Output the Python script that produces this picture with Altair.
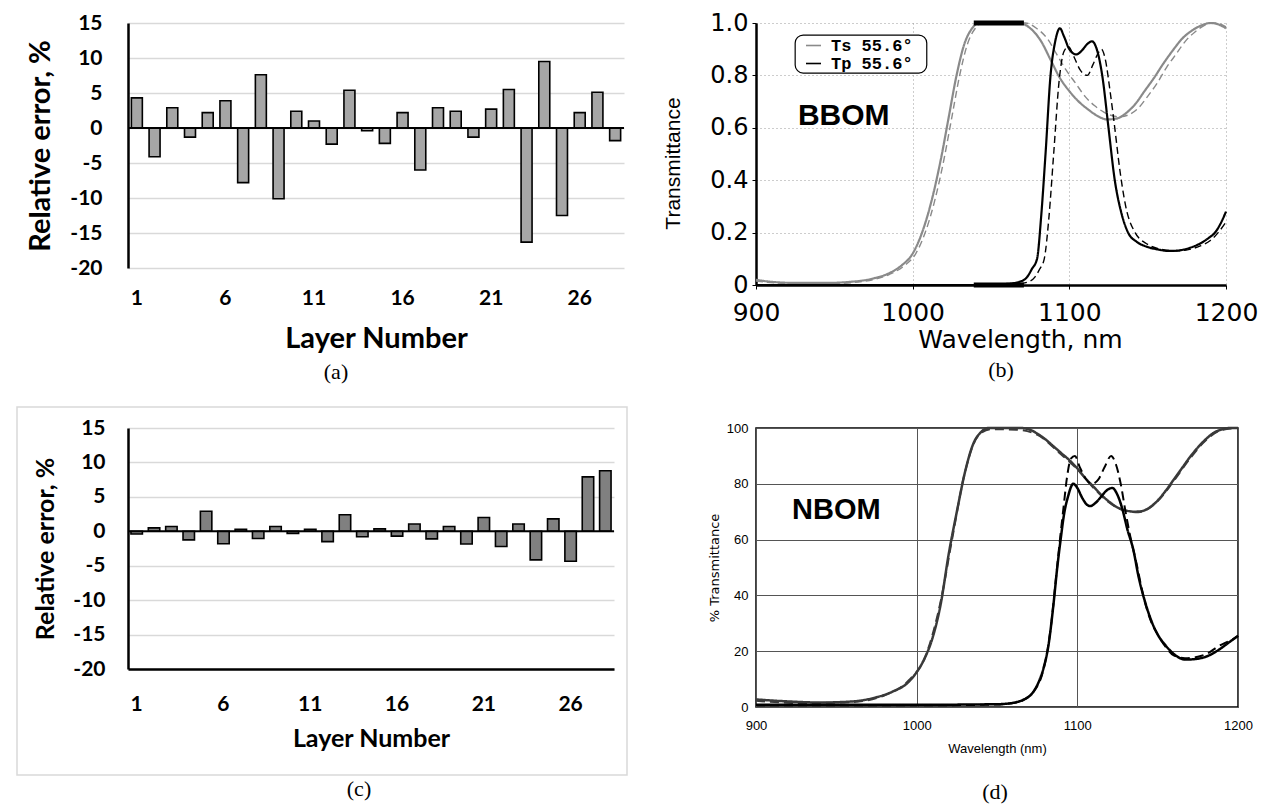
import altair as alt
import pandas as pd

# ---------------- relative error of every layer (panels a and c) ----------------
layer_no = list(range(1, 29))
err_bbom = [4.3, -4.1, 2.9, -1.3, 2.2, 3.9, -7.8, 7.6, -10.1, 2.4, 1.0, -2.3, 5.4, -0.4,
            -2.2, 2.2, -6.0, 2.9, 2.4, -1.3, 2.7, 5.5, -16.3, 9.5, -12.5, 2.2, 5.1, -1.8]
err_nbom = [-0.4, 0.5, 0.7, -1.25, 2.9, -1.8, 0.3, -1.05, 0.7, -0.3, 0.3, -1.5, 2.4, -0.8,
            0.35, -0.7, 1.05, -1.1, 0.7, -1.85, 2.0, -2.2, 1.05, -4.15, 1.8, -4.35, 7.9, 8.8]
err_ticks = [-20, -15, -10, -5, 0, 5, 10, 15]
layer_ticks = [1, 6, 11, 16, 21, 26]

# ---------------- BBOM transmittance (panel b) ----------------
bb_ts_wl = [900, 910, 925, 945, 960, 975, 985, 993, 1000, 1006, 1012, 1018, 1023, 1028, 1033, 1038,
            1042, 1068, 1075, 1082, 1088, 1094, 1100, 1106, 1112, 1118, 1124, 1130, 1136, 1142,
            1148, 1154, 1160, 1166, 1172, 1178, 1184, 1190, 1195, 1200]
bb_ts_t = [0.02, 0.012, 0.008, 0.008, 0.012, 0.025, 0.045, 0.075, 0.12, 0.2, 0.32, 0.48, 0.64, 0.8,
           0.92, 0.98, 1.0, 1.0, 0.98, 0.93, 0.86, 0.79, 0.74, 0.70, 0.67, 0.645, 0.632, 0.635,
           0.655, 0.69, 0.74, 0.79, 0.845, 0.895, 0.94, 0.97, 0.99, 1.0, 0.995, 0.98]
bb_ts_fit_wl = [900, 920, 950, 970, 985, 995, 1002, 1008, 1014, 1020, 1025, 1030, 1035, 1040, 1044,
                1072, 1079, 1086, 1092, 1098, 1104, 1110, 1116, 1122, 1128, 1132, 1138, 1144, 1150,
                1156, 1162, 1168, 1174, 1180, 1186, 1192, 1197, 1200]
bb_ts_fit_t = [0.015, 0.006, 0.006, 0.015, 0.04, 0.075, 0.12, 0.2, 0.32, 0.48, 0.64, 0.8, 0.92, 0.98,
               1.0, 1.0, 0.98, 0.94, 0.88, 0.82, 0.77, 0.72, 0.685, 0.66, 0.645, 0.642, 0.65, 0.675,
               0.72, 0.77, 0.83, 0.88, 0.93, 0.965, 0.99, 1.0, 0.995, 0.985]
bb_tp_wl = [900, 1040, 1060, 1068, 1073, 1076, 1079.4, 1082, 1084.8, 1088, 1091, 1094, 1096.5, 1100,
            1104.5, 1108, 1111.5, 1114.5, 1117.5, 1121, 1125, 1129, 1133, 1137.5, 1143, 1150, 1157,
            1163, 1170, 1177, 1184, 1189, 1193, 1197, 1200]
bb_tp_t = [0, 0, 0.004, 0.012, 0.03, 0.06, 0.1, 0.26, 0.5, 0.8, 0.93, 0.98, 0.95, 0.9, 0.88, 0.895,
           0.92, 0.93, 0.9, 0.8, 0.6, 0.4, 0.28, 0.2, 0.165, 0.145, 0.135, 0.13, 0.132, 0.142,
           0.16, 0.18, 0.2, 0.24, 0.28]
bb_tp_fit_wl = [900, 1045, 1065, 1073, 1078, 1081, 1084, 1087, 1090, 1093.5, 1096.5, 1099.5, 1103,
                1107, 1111.5, 1115, 1118, 1120.5, 1123, 1126, 1129, 1132, 1136, 1142, 1150, 1160,
                1168, 1176, 1184, 1190, 1195, 1200]
bb_tp_fit_t = [0, 0, 0.003, 0.01, 0.03, 0.06, 0.1, 0.26, 0.5, 0.78, 0.89, 0.91, 0.87, 0.82, 0.8,
               0.84, 0.88, 0.9, 0.86, 0.74, 0.6, 0.45, 0.3, 0.2, 0.155, 0.135, 0.13, 0.135, 0.15,
               0.17, 0.2, 0.24]
bb_band = [1039, 1071]          # pass band edges marked on the 0 and 1 lines
trans_ticks = [0.0, 0.1, 0.2, 0.3, 0.4, 0.5, 0.6, 0.7, 0.8, 0.9, 1.0]
wl_ticks = [900, 1000, 1100, 1200]

# ---------------- NBOM transmittance (panel d) ----------------
nb_ts_wl = [900, 920, 940, 960, 975, 985, 995, 1000, 1005, 1010, 1015, 1020, 1025, 1030, 1035, 1040,
            1045, 1065, 1070, 1075, 1080, 1085, 1090, 1095, 1100, 1105, 1110, 1115, 1120, 1125,
            1130, 1135, 1140, 1145, 1150, 1155, 1160, 1165, 1170, 1175, 1180, 1185, 1190, 1195, 1200]
nb_ts_t = [2.7, 2.0, 1.6, 2.0, 3.5, 5.5, 9.0, 12.5, 17.5, 25, 37, 55, 70, 84, 94, 98.5, 100, 100,
           99.5, 98, 96, 93.5, 91, 88.5, 85.5, 82, 79, 76, 73.5, 71.5, 70.5, 70, 70.2, 71.5, 74,
           77.5, 81.5, 85.5, 89.5, 93, 96, 98.3, 99.5, 100, 100]
nb_ts_fit_wl = [900, 930, 960, 980, 995, 1005, 1015, 1022, 1030, 1038, 1046, 1062, 1075, 1090, 1100,
                1110, 1120, 1130, 1138, 1150, 1160, 1170, 1180, 1190, 1200]
nb_ts_fit_t = [2.2, 1.4, 1.8, 4.2, 9.5, 17.5, 38, 60, 84, 97, 99.6, 99.4, 97.6, 90.5, 85.2, 78.6,
               73.2, 70.3, 69.8, 73.8, 81, 89, 95.6, 99.3, 100]
nb_tp_wl = [900, 1000, 1050, 1060, 1066, 1072, 1076, 1079, 1082, 1085, 1087.5, 1089.6, 1092, 1094,
            1097.5, 1100, 1103, 1106, 1108, 1111, 1115, 1118, 1121.8, 1125, 1128, 1131, 1135, 1138,
            1142, 1146, 1150, 1155, 1160, 1167.5, 1175, 1182, 1188, 1194, 1200]
nb_tp_t = [0.8, 0.8, 1.0, 1.5, 2.5, 5, 9, 14, 22, 36, 50, 60, 70, 75, 80, 78.5, 75, 72.5, 72, 73,
           75.5, 77.5, 78.5, 76, 71, 64, 56, 47, 38, 31, 26, 22, 19, 17, 17.3, 18.5, 20.5, 23, 25.5]
nb_tp_fit_wl = [900, 1000, 1050, 1062, 1068, 1074, 1078, 1081, 1084, 1086.5, 1089, 1091.5, 1093.5,
                1096, 1098.5, 1101.5, 1105, 1109, 1113, 1117, 1121, 1124, 1127, 1130, 1133, 1137,
                1141, 1145, 1150, 1155, 1160, 1167, 1175, 1182, 1187, 1192, 1196, 1200]
nb_tp_fit_t = [0.6, 0.6, 0.9, 1.6, 3, 6.5, 11.5, 19, 31, 45, 59, 72, 82, 89, 90, 86, 82, 80, 81.5,
               86, 90, 87, 80, 70, 61, 51, 40, 32, 26, 21.5, 18.5, 17.5, 18, 19.5, 21.5, 23, 24, 25.5]
pct_ticks = [0, 20, 40, 60, 80, 100]

CAL = "Lato, Carlito, Calibri, sans-serif"
VERD = "DejaVu Sans, Verdana, sans-serif"
ARIAL = "Liberation Sans, Arial, sans-serif"
MONO = "Liberation Mono, DejaVu Sans Mono, monospace"
SERIF = "Liberation Serif, Times New Roman, serif"


def caption(text, dx, offset):
    return alt.TitleParams(text=text, orient="bottom", anchor="middle", frame="group", dx=dx,
                           offset=offset, font=SERIF, fontSize=22, fontWeight="normal", color="black")


def error_panel(values, fill, w, h, o):
    df = pd.DataFrame({"layer": layer_no, "err": values})
    x = alt.X("layer:O",
              scale=alt.Scale(paddingInner=o["pad"], paddingOuter=o["pad"] / 2),
              axis=alt.Axis(values=layer_ticks, labelAngle=0, labelFont=CAL, labelFontSize=o["lab"],
                            labelFontWeight="bold", labelColor="black", labelPadding=o["xlp"],
                            labelOverlap=False, ticks=False, domain=o["floor"], domainColor="black",
                            domainWidth=2.5, grid=False, title="Layer Number", titleFont=CAL,
                            titleFontSize=o["tit"], titleFontWeight="bold", titleColor="black",
                            titlePadding=o["xtp"]))
    y = alt.Y("err:Q", scale=alt.Scale(domain=[-20, 15], nice=False, zero=True),
              axis=alt.Axis(values=err_ticks, labelExpr="toString(datum.value)", labelFont=CAL,
                            labelFontSize=o["lab"], labelFontWeight="bold", labelColor="black",
                            labelPadding=o["ylp"], labelOverlap=False, ticks=False, domain=True,
                            domainColor="black", domainWidth=2.5, grid=True, gridColor="#d9d9d9",
                            gridWidth=1.5, title="Relative error, %", titleFont=CAL,
                            titleFontSize=o["tit"], titleFontWeight="bold", titleColor="black",
                            titlePadding=o["ytp"]))
    bars = alt.Chart(df).mark_bar(fill=fill, stroke="black", strokeWidth=1.6).encode(x=x, y=y)
    # horizontal category axis line drawn through zero (same y definition as the bars)
    zero = alt.Chart(pd.DataFrame({"err": [0]})).mark_rule(color="black", strokeWidth=2).encode(y=y)
    parts = [bars, zero]
    if o.get("frame"):
        fx, fx2, fy, fy2 = o["frame"]
        box = alt.Chart(pd.DataFrame({"k": [0]})).mark_rect(
            fill="transparent", stroke="#d9d9d9", strokeWidth=1.5).encode(
            x=alt.value(fx), x2=alt.value(fx2), y=alt.value(fy), y2=alt.value(fy2))
        parts = [box] + parts
    return alt.layer(*parts).properties(width=w, height=h, title=caption(o["cap"], o["cdx"], o["coff"]))


def long_table(series, pol_field, kind_field):
    rows = []
    for pol, kind, wl, t in series:
        for a_, b_ in zip(wl, t):
            rows.append({"wl": a_, "t": b_, pol_field: pol, kind_field: kind, "series": pol + kind})
    return pd.DataFrame(rows)


# ---------------- panel (a) ----------------
panel_a = error_panel(err_bbom, "#a6a6a6", 496, 245,
                      dict(pad=0.38, lab=21, tit=29, xlp=19, xtp=16, ylp=26, ytp=14,
                           floor=False, cap="(a)", cdx=-40, coff=9))

# ---------------- panel (c) ----------------
panel_c = error_panel(err_nbom, "#808080", 486, 241,
                      dict(pad=0.34, lab=21, tit=25, xlp=24, xtp=12, ylp=23, ytp=14,
                           floor=True, cap="(c)", cdx=-12, coff=3,
                           frame=(-111, 499, -21, 347)))

# ---------------- panel (b) ----------------
bb = long_table([("Ts 55.6°", "design", bb_ts_wl, bb_ts_t),
                 ("Ts 55.6°", "fit", bb_ts_fit_wl, bb_ts_fit_t),
                 ("Tp 55.6°", "design", bb_tp_wl, bb_tp_t),
                 ("Tp 55.6°", "fit", bb_tp_fit_wl, bb_tp_fit_t)], "pol", "kind")
bx = alt.X("wl:Q", scale=alt.Scale(domain=[900, 1200], nice=False),
           axis=alt.Axis(values=wl_ticks, format="d", labelFont=VERD, labelFontSize=25,
                         labelColor="black", labelPadding=11, labelFlush=False, labelOverlap=False,
                         ticks=True, tickSize=4, tickColor="black", domainColor="black",
                         domainWidth=2.5, grid=True, gridColor="#9a9a9a", gridDash=[1, 3],
                         gridWidth=1, title="Wavelength, nm", titleFont=VERD, titleFontSize=25,
                         titleFontWeight="normal", titleColor="black", titlePadding=2,
                         titleX=264))
by = alt.Y("t:Q", scale=alt.Scale(domain=[0, 1], nice=False),
           axis=alt.Axis(values=trans_ticks,
                         labelExpr="datum.value == 0 ? '0' : (round(datum.value * 10) % 2 == 0 ? format(datum.value, '.1f') : '')",
                         labelFont=VERD, labelFontSize=24, labelColor="black", labelPadding=4,
                         labelOverlap=False, ticks=True, tickSize=4, tickColor="black",
                         domainColor="black", domainWidth=2.5, grid=True, gridColor="#9a9a9a",
                         gridDash=[1, 3], gridWidth=1, title="Transmittance", titleFont=ARIAL,
                         titleFontSize=21, titleFontWeight="normal", titleColor="black",
                         titlePadding=26, titleY=140))
bb_lines = alt.Chart(bb).mark_line(interpolate="monotone").encode(
    x=bx, y=by,
    color=alt.Color("pol:N", scale=alt.Scale(domain=["Ts 55.6°", "Tp 55.6°"], range=["#8a8a8a", "black"]),
                    legend=alt.Legend(orient="none", legendX=49, legendY=14, title=None,
                                      symbolType="stroke", symbolSize=225, symbolStrokeWidth=1.6,
                                      labelFont=MONO, labelFontSize=17, labelFontWeight="bold",
                                      labelColor="black", labelOffset=9, padding=0, rowPadding=0,
                                      direction="vertical")),
    strokeDash=alt.StrokeDash("kind:N", scale=alt.Scale(domain=["design", "fit"], range=[[1, 0], [7, 4]]),
                              legend=None),
    strokeWidth=alt.StrokeWidth("kind:N", scale=alt.Scale(domain=["design", "fit"], range=[2.2, 1.4]),
                                legend=None),
    detail="series:N")
band_df = pd.DataFrame({"wl": [bb_band[0]] * 2, "hi": [bb_band[1]] * 2, "t": [0.0, 1.0]})
bb_band_marks = alt.Chart(band_df).mark_rule(color="black", strokeWidth=5).encode(
    x=bx, x2="hi:Q", y=by)
# rounded frame behind the legend entries
bb_legend_box = alt.Chart(pd.DataFrame({"k": [0]})).mark_rect(
    fill="white", stroke="black", strokeWidth=1.2, cornerRadius=8).encode(
    x=alt.datum(925), x2=alt.datum(1009), y=alt.datum(0.954), y2=alt.datum(0.809))
bb_label = alt.Chart(pd.DataFrame({"wl": [956], "t": [0.645], "name": ["BBOM"]})).mark_text(
    font=ARIAL, fontSize=30, fontWeight="bold", color="black", align="center", baseline="middle").encode(
    x=bx, y=by, text="name:N")
panel_b = alt.layer(bb_lines, bb_band_marks, bb_legend_box, bb_label).properties(
    width=470, height=262, title=caption("(b)", 10, 8))

# ---------------- panel (d) ----------------
nb = long_table([("Ts", "design", nb_ts_wl, nb_ts_t),
                 ("Ts", "fit", nb_ts_fit_wl, nb_ts_fit_t),
                 ("Tp", "design", nb_tp_wl, nb_tp_t),
                 ("Tp", "fit", nb_tp_fit_wl, nb_tp_fit_t)], "pol_d", "kind_d")
dx_ = alt.X("wl:Q", scale=alt.Scale(domain=[900, 1200], nice=False),
            axis=alt.Axis(values=wl_ticks, format="d", labelFont=ARIAL, labelFontSize=13,
                          labelColor="black", labelPadding=12, labelFlush=False, ticks=False,
                          domain=False, grid=True, gridColor="#555555", gridWidth=1,
                          title="Wavelength (nm)", titleFont=ARIAL, titleFontSize=13,
                          titleFontWeight="normal", titleColor="black", titlePadding=10))
dy_ = alt.Y("t:Q", scale=alt.Scale(domain=[0, 100], nice=False),
            axis=alt.Axis(values=pct_ticks, labelFont=ARIAL, labelFontSize=13, labelColor="black",
                          labelPadding=8, ticks=False, domain=False, grid=True,
                          gridColor="#555555", gridWidth=1, title="% Transmittance",
                          titleFont=VERD, titleFontSize=13, titleFontWeight="normal",
                          titleColor="black", titlePadding=5))
nb_lines = alt.Chart(nb).mark_line(interpolate="monotone").encode(
    x=dx_, y=dy_,
    color=alt.Color("pol_d:N", scale=alt.Scale(domain=["Ts", "Tp"], range=["#3a3a3a", "black"]), legend=None),
    strokeDash=alt.StrokeDash("kind_d:N", scale=alt.Scale(domain=["design", "fit"], range=[[1, 0], [9, 5]]),
                              legend=None),
    strokeWidth=alt.StrokeWidth("kind_d:N", scale=alt.Scale(domain=["design", "fit"], range=[2.5, 2.0]),
                                legend=None),
    detail="series:N")
nb_label = alt.Chart(pd.DataFrame({"wl": [950], "t": [70.5], "name": ["NBOM"]})).mark_text(
    font=ARIAL, fontSize=29, fontWeight="bold", color="black", align="center", baseline="middle").encode(
    x=dx_, y=dy_, text="name:N")
panel_d = alt.layer(nb_lines, nb_label).properties(
    width=482, height=279, title=caption("(d)", -2, 27),
    view=alt.ViewBackground(stroke="black", strokeWidth=1.5))

chart = alt.concat(panel_a, panel_b, panel_c, panel_d, columns=2,
                   spacing={"row": 143, "column": 132}, bounds="flush", align="each").resolve_scale(
    color="independent", strokeDash="independent", strokeWidth="independent").properties(
    padding={"left": 15, "top": 10, "right": 0, "bottom": 0}, background="white").configure_view(
    stroke="transparent")

chart.save("out.html", embed_options={"renderer": "svg", "actions": False})
